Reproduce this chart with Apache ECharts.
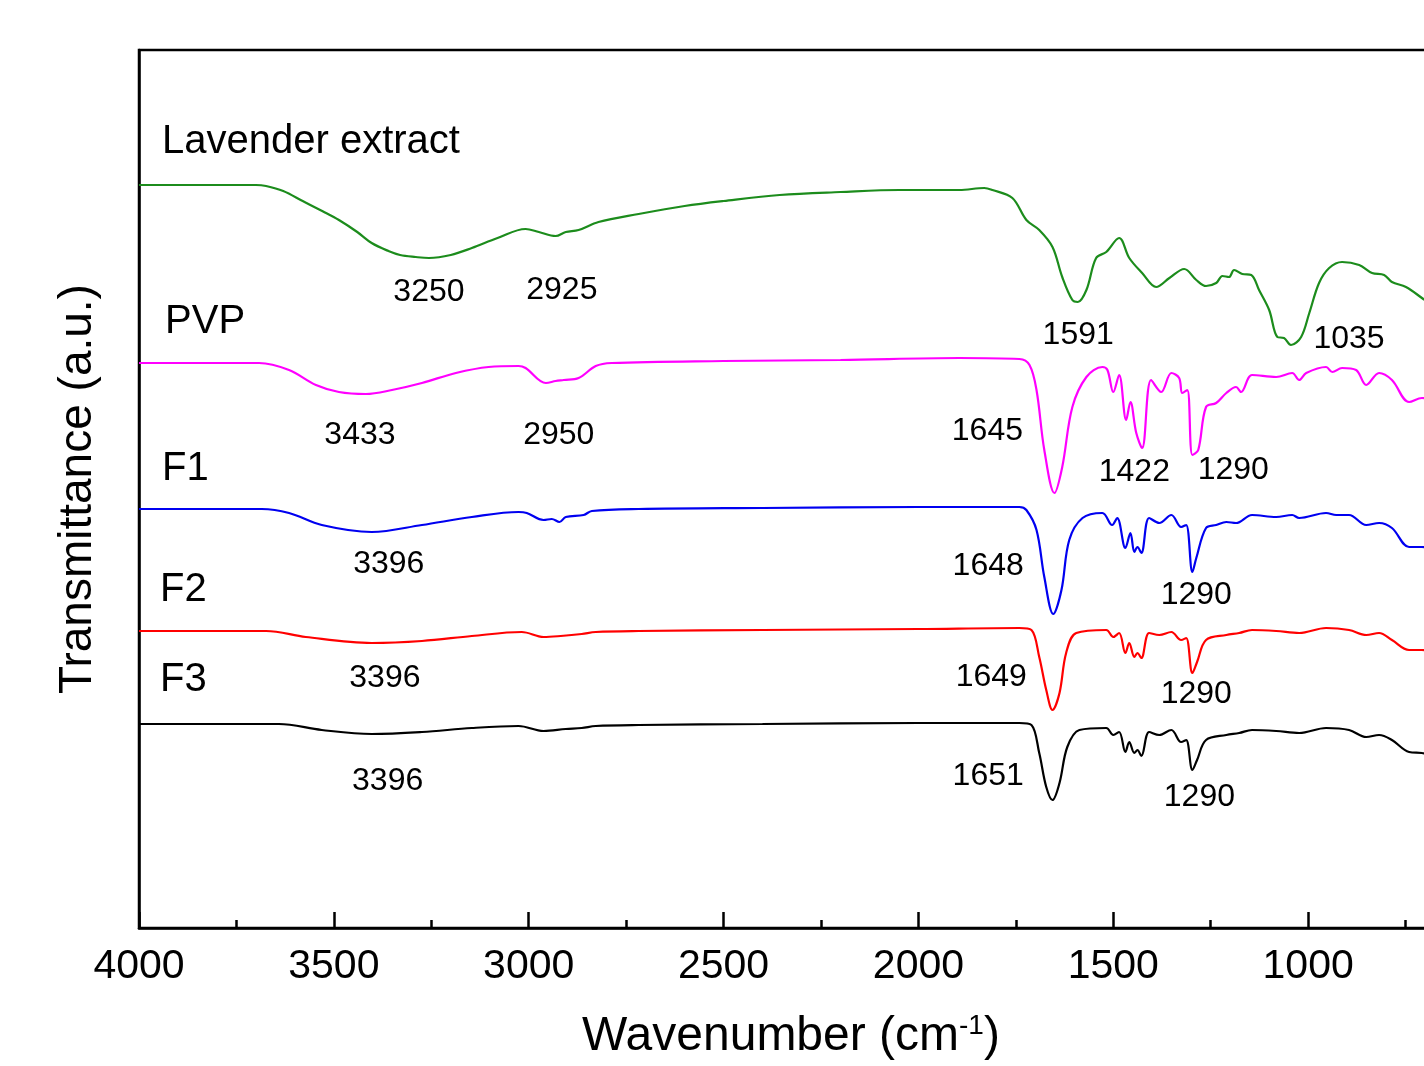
<!DOCTYPE html>
<html>
<head>
<meta charset="utf-8">
<title>FTIR spectra</title>
<script src="https://cdn.jsdelivr.net/npm/echarts@6/dist/echarts.min.js"></script>
<style>
  html, body { margin: 0; padding: 0; background: #fff; }
  #chart { width: 1424px; height: 1066px; }
</style>
</head>
<body>
<div id="chart"></div>
<script>
// spectra: [wavenumber, transmittance (a.u., stacked)]
var lavender = [[4000,743],[3850,743],[3700,743],[3674,742],[3630,737],[3580,727],[3530,717],[3487,708],[3440,696],[3403,685],[3360,677],[3330,673],[3290,671],[3256,670],[3200,673],[3146,680],[3080,690],[3008,699],[2974,696],[2931,692],[2905,696],[2872,698],[2821,706],[2718,714],[2600,722],[2500,727],[2356,733],[2200,736],[2049,738],[1895,738],[1831,740],[1810,738],[1759,730],[1723,708],[1690,698],[1656,681],[1631,651],[1605,628],[1591,626],[1569,638],[1544,670],[1518,676],[1485,690],[1459,670],[1426,655],[1390,641],[1356,650],[1318,659],[1287,648],[1262,642],[1236,645],[1220,652],[1203,651],[1190,658],[1169,654],[1146,653],[1126,638],[1100,618],[1079,591],[1062,590],[1044,583],[1018,591],[997,615],[972,645],[946,660],[913,666],[869,663],[836,655],[805,653],[785,646],[749,641],[708,630],[680,622]];
var pvp = [[4000,565],[3800,565],[3692,565],[3615,558],[3546,543],[3487,536],[3418,534],[3351,538],[3274,545],[3187,555],[3103,561],[3026,562],[3008,560],[2956,545],[2931,547],[2910,548],[2872,550],[2828,562],[2787,565],[2500,567],[2200,568],[1895,570],[1741,569],[1715,563],[1697,538],[1677,478],[1651,435],[1631,461],[1605,521],[1569,551],[1528,561],[1515,558],[1500,536],[1485,553],[1467,508],[1456,526],[1441,495],[1426,480],[1403,548],[1377,536],[1351,555],[1331,550],[1323,535],[1310,538],[1297,473],[1282,478],[1262,521],[1236,525],[1210,535],[1185,541],[1172,536],[1144,553],[1082,551],[1041,555],[1023,548],[1005,555],[954,561],[938,556],[913,560],[877,558],[851,543],[818,555],[785,548],[741,526],[708,530],[680,528]];
var f1 = [[4000,419],[3800,419],[3685,419],[3615,415],[3531,403],[3403,396],[3274,403],[3146,411],[3026,416],[3005,415],[2962,408],[2941,409],[2921,406],[2905,411],[2859,413],[2838,417],[2718,419],[2400,420],[2000,421],[1741,421],[1723,418],[1697,398],[1677,351],[1654,314],[1633,338],[1613,388],[1579,410],[1528,415],[1503,403],[1490,410],[1469,380],[1456,395],[1446,376],[1438,381],[1428,375],[1408,410],[1382,405],[1351,413],[1326,401],[1313,403],[1297,356],[1287,370],[1262,400],[1236,403],[1210,406],[1185,405],[1144,413],[1082,411],[1041,413],[1023,410],[954,415],[928,413],[895,413],[851,403],[818,405],[785,400],[741,381],[708,381],[680,378]];
var f2 = [[4000,297],[3800,297],[3674,297],[3572,291],[3403,285],[3274,287],[3146,292],[3018,296],[2962,291],[2918,292],[2864,294],[2828,296],[2718,297],[2400,298],[2000,299],[1741,300],[1710,298],[1690,271],[1672,238],[1656,218],[1638,235],[1621,275],[1595,295],[1518,298],[1500,291],[1485,295],[1469,275],[1459,285],[1446,271],[1438,275],[1428,270],[1408,295],[1382,293],[1351,296],[1326,288],[1313,290],[1297,255],[1285,266],[1262,288],[1210,293],[1177,295],[1144,298],[1082,297],[1023,295],[954,300],[895,298],[851,293],[818,295],[785,288],[741,278],[708,278],[680,276]];
var f3 = [[4000,204],[3800,204],[3641,204],[3531,198],[3403,194],[3274,196],[3146,200],[3026,202],[2962,197],[2905,199],[2864,200],[2828,202],[2718,203],[2400,204],[2000,205],[1741,205],[1710,203],[1690,175],[1672,141],[1656,128],[1638,145],[1618,181],[1587,198],[1518,200],[1500,193],[1485,196],[1469,176],[1459,186],[1446,175],[1438,178],[1428,172],[1408,196],[1382,193],[1351,198],[1326,186],[1313,188],[1297,158],[1285,168],[1262,188],[1210,193],[1177,195],[1144,198],[1082,197],[1023,195],[954,200],[895,198],[851,191],[818,193],[785,188],[741,176],[708,175],[680,173]];

var seriesNames = ['Lavender extract', 'PVP', 'F1', 'F2', 'F3'];
var seriesColors = ['#1c8c1c', '#ff00ff', '#0000f0', '#ff0000', '#000000'];
var spectra = [lavender, pvp, f1, f2, f3];

// sample name labels (anchor: left edge, middle)
var nameWn = [3941, 3933, 3941, 3946, 3946];
var nameVal = [786, 606, 459, 338, 248];

// peak labels (anchor: centre)
var peakText = ['3250','2925','1591','1035','3433','2950','1645','1422','1290','3396','1648','1290','3396','1649','1290','3396','1651','1290'];
var peakWn   = [3256, 2915, 1590, 895, 3433, 2923, 1823, 1446, 1192, 3359, 1821, 1287, 3369, 1813, 1287, 3362, 1821, 1279];
var peakVal  = [636, 638, 593, 589, 493, 493, 497, 456, 458, 364, 362, 333, 250, 251, 234, 147, 152, 131];

var xTicks = { min: 500, max: 4000, interval: 500 };
var FONT = 'Liberation Sans, Arial, sans-serif';

var chart = echarts.init(document.getElementById('chart'));

var series = spectra.map(function (d, i) {
    return {
        name: seriesNames[i],
        type: 'line',
        data: d,
        showSymbol: false,
        smooth: 0.35,
        lineStyle: { color: seriesColors[i], width: 2.2 },
        itemStyle: { color: seriesColors[i] },
        z: 3
    };
});

series.push({
    type: 'scatter',
    symbolSize: 0,
    silent: true,
    itemStyle: { opacity: 1 },
    data: nameWn.map(function (w, i) { return { value: [w, nameVal[i]], name: seriesNames[i] }; }),
    label: {
        show: true, position: 'right', distance: 0,
        formatter: '{b}', color: '#000', fontFamily: FONT, fontSize: 40
    },
    z: 5
});

series.push({
    type: 'scatter',
    symbolSize: 0,
    silent: true,
    itemStyle: { opacity: 1 },
    data: peakWn.map(function (w, i) { return { value: [w, peakVal[i]], name: peakText[i] }; }),
    label: {
        show: true, position: 'inside',
        formatter: '{b}', color: '#000', fontFamily: FONT, fontSize: 32
    },
    z: 5
});

var option = {
    animation: false,
    backgroundColor: '#fff',
    grid: {
        left: 139, top: 50, bottom: 138, width: 1364,
        outerBoundsMode: 'none',
        show: true, borderColor: '#000', borderWidth: 2.5, backgroundColor: 'transparent'
    },
    xAxis: {
        type: 'value',
        inverse: true,
        min: xTicks.min, max: xTicks.max, interval: xTicks.interval,
        axisLine: { show: true, onZero: false, lineStyle: { color: '#000', width: 2.5 } },
        axisTick: { show: true, inside: true, length: 16, lineStyle: { color: '#000', width: 2.5 } },
        minorTick: { show: true, splitNumber: 2, length: 8, lineStyle: { color: '#000', width: 2.5 } },
        splitLine: { show: false },
        axisLabel: { color: '#000', fontFamily: FONT, fontSize: 41, margin: 18, formatter: function (v) { return String(v); } },
        name: 'Wavenumber (cm{sup|-1})',
        nameLocation: 'middle',
        nameGap: 84,
        nameTextStyle: {
            color: '#000', fontFamily: FONT, fontSize: 48,
            padding: [0, 60, 0, 0],
            rich: { sup: { fontSize: 28, fontFamily: FONT, color: '#000', verticalAlign: 'top', padding: [0, 0, 22, 0] } }
        }
    },
    yAxis: {
        type: 'value',
        min: 0, max: 878,
        axisLine: { show: true, lineStyle: { color: '#000', width: 2.5 } },
        axisTick: { show: false },
        axisLabel: { show: false },
        splitLine: { show: false },
        name: 'Transmittance (a.u.)',
        nameLocation: 'middle',
        nameGap: 38,
        nameTextStyle: { color: '#000', fontFamily: FONT, fontSize: 46 }
    },
    series: series
};

chart.setOption(option);
</script>
</body>
</html>
